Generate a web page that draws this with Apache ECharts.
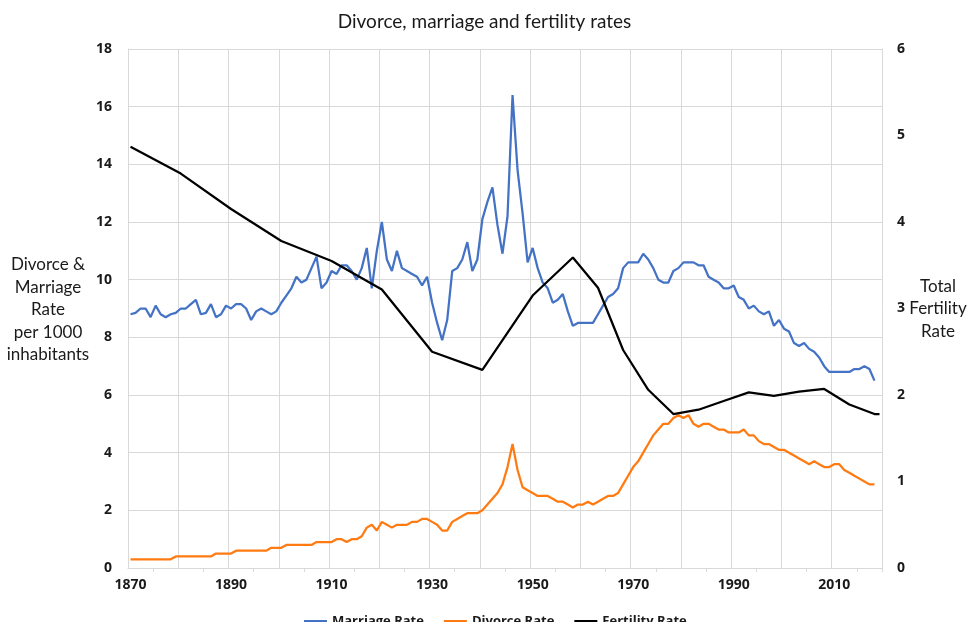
<!DOCTYPE html>
<html>
<head>
<meta charset="utf-8">
<title>Divorce, marriage and fertility rates</title>
<script src="https://cdn.jsdelivr.net/npm/echarts@6/dist/echarts.min.js"></script>
<style>
  html, body { margin: 0; padding: 0; background: #fff; }
  #chart { width: 969px; height: 622px; }
</style>
</head>
<body>
<div id="chart"></div>
<script>
var firstYear = 1870;
var lastYear = 2019;

// per 1000 inhabitants, one value per year from 1870
var marriageRate = [
  8.8, 8.85, 9.0, 9.0, 8.7, 9.1, 8.8, 8.7, 8.8, 8.85,
  9.0, 9.0, 9.15, 9.3, 8.8, 8.85, 9.15, 8.7, 8.8, 9.1,
  9.0, 9.15, 9.15, 9.0, 8.6, 8.9, 9.0, 8.9, 8.8, 8.9,
  9.2, 9.45, 9.7, 10.1, 9.9, 10.0, 10.4, 10.8, 9.7, 9.9,
  10.3, 10.2, 10.5, 10.5, 10.3, 10.0, 10.4, 11.1, 9.7, 11.0,
  12.0, 10.7, 10.3, 11.0, 10.4, 10.3, 10.2, 10.1, 9.8, 10.1,
  9.2, 8.5, 7.9, 8.6, 10.3, 10.4, 10.7, 11.3, 10.3, 10.7,
  12.1, 12.7, 13.2, 11.9, 10.9, 12.2, 16.4, 13.8, 12.3, 10.6,
  11.1, 10.4, 9.9, 9.7, 9.2, 9.3, 9.5, 8.9, 8.4, 8.5,
  8.5, 8.5, 8.5, 8.8, 9.1, 9.4, 9.5, 9.7, 10.4, 10.6,
  10.6, 10.6, 10.9, 10.7, 10.4, 10.0, 9.9, 9.9, 10.3, 10.4,
  10.6, 10.6, 10.6, 10.5, 10.5, 10.1, 10.0, 9.9, 9.7, 9.7,
  9.8, 9.4, 9.3, 9.0, 9.1, 8.9, 8.8, 8.9, 8.4, 8.6,
  8.3, 8.2, 7.8, 7.7, 7.8, 7.6, 7.5, 7.3, 7.0, 6.8,
  6.8, 6.8, 6.8, 6.8, 6.9, 6.9, 7.0, 6.9, 6.5
];

var divorceRate = [
  0.3, 0.3, 0.3, 0.3, 0.3, 0.3, 0.3, 0.3, 0.3, 0.4,
  0.4, 0.4, 0.4, 0.4, 0.4, 0.4, 0.4, 0.5, 0.5, 0.5,
  0.5, 0.6, 0.6, 0.6, 0.6, 0.6, 0.6, 0.6, 0.7, 0.7,
  0.7, 0.8, 0.8, 0.8, 0.8, 0.8, 0.8, 0.9, 0.9, 0.9,
  0.9, 1.0, 1.0, 0.9, 1.0, 1.0, 1.1, 1.4, 1.5, 1.3,
  1.6, 1.5, 1.4, 1.5, 1.5, 1.5, 1.6, 1.6, 1.7, 1.7,
  1.6, 1.5, 1.3, 1.3, 1.6, 1.7, 1.8, 1.9, 1.9, 1.9,
  2.0, 2.2, 2.4, 2.6, 2.9, 3.5, 4.3, 3.4, 2.8, 2.7,
  2.6, 2.5, 2.5, 2.5, 2.4, 2.3, 2.3, 2.2, 2.1, 2.2,
  2.2, 2.3, 2.2, 2.3, 2.4, 2.5, 2.5, 2.6, 2.9, 3.2,
  3.5, 3.7, 4.0, 4.3, 4.6, 4.8, 5.0, 5.0, 5.2, 5.3,
  5.2, 5.3, 5.0, 4.9, 5.0, 5.0, 4.9, 4.8, 4.8, 4.7,
  4.7, 4.7, 4.8, 4.6, 4.6, 4.4, 4.3, 4.3, 4.2, 4.1,
  4.1, 4.0, 3.9, 3.8, 3.7, 3.6, 3.7, 3.6, 3.5, 3.5,
  3.6, 3.6, 3.4, 3.3, 3.2, 3.1, 3.0, 2.9, 2.9
];

// total fertility rate, only known for some years
var fertilityYears = [1870, 1880, 1890, 1900, 1910, 1920, 1930, 1940, 1950, 1958,
  1963, 1968, 1973, 1978, 1983, 1988, 1993, 1998, 2003, 2008, 2013, 2018, 2019];
var fertilityRate = [4.87, 4.56, 4.15, 3.78, 3.55, 3.22, 2.50, 2.29, 3.15, 3.59,
  3.24, 2.52, 2.06, 1.78, 1.83, 1.93, 2.03, 1.99, 2.04, 2.07, 1.89, 1.78, 1.78];

var years = [];
for (var y = firstYear; y <= lastYear; y++) {
  years.push(String(y));
}

var fertilityData = fertilityYears.map(function (yr, i) {
  return [String(yr), fertilityRate[i]];
});

var font = 'Lato, "Open Sans", sans-serif';
var boldFont = '"Open Sans", Lato, sans-serif';
var gridColor = '#d9d9d9';
var labelStyle = { fontSize: 14, fontWeight: 'bold', color: '#1a1a1a', fontFamily: boldFont };

var chart = echarts.init(document.getElementById('chart'), null, { renderer: 'canvas' });
chart.setOption({
  animation: false,
  textStyle: { fontFamily: font },
  title: {
    text: 'Divorce, marriage and fertility rates',
    left: 'center',
    top: 7,
    textStyle: { fontSize: 19, fontWeight: 'normal', color: '#1a1a1a', fontFamily: font }
  },
  legend: {
    top: 610,
    left: 299,
    itemGap: 20,
    itemWidth: 23,
    itemHeight: 3,
    icon: 'rect',
    textStyle: { fontSize: 13, fontWeight: 'bold', color: '#1a1a1a', fontFamily: boldFont },
    data: ['Marriage Rate', 'Divorce Rate', 'Fertility Rate']
  },
  grid: { left: 128, right: 87, top: 49, bottom: 54 },
  graphic: [
    {
      type: 'text',
      style: {
        text: 'Divorce &\nMarriage\nRate\nper 1000\ninhabitants',
        x: 48, y: 310,
        align: 'center',
        verticalAlign: 'middle',
        lineHeight: 22.5,
        font: '17px ' + font,
        fill: '#1a1a1a'
      }
    },
    {
      type: 'text',
      style: {
        text: 'Total\nFertility\nRate',
        x: 938, y: 309,
        align: 'center',
        verticalAlign: 'middle',
        lineHeight: 22.5,
        font: '17px ' + font,
        fill: '#1a1a1a'
      }
    }
  ],
  xAxis: {
    type: 'category',
    data: years,
    boundaryGap: true,
    axisLine: { show: true, lineStyle: { color: gridColor, width: 1 } },
    axisTick: {
      show: true,
      length: 4,
      lineStyle: { color: gridColor },
      interval: function (index) { return index % 10 === 5; }
    },
    axisLabel: Object.assign({ interval: 19, margin: 10 }, labelStyle),
    splitLine: {
      show: true,
      interval: function (index) { return index % 10 === 0; },
      lineStyle: { color: gridColor, width: 1 }
    }
  },
  yAxis: [
    {
      type: 'value',
      min: 0,
      max: 18,
      interval: 2,
      axisLine: { show: true, lineStyle: { color: gridColor } },
      axisTick: { show: false },
      axisLabel: Object.assign({ margin: 16 }, labelStyle),
      splitLine: { show: true, lineStyle: { color: gridColor, width: 1 } }
    },
    {
      type: 'value',
      min: 0,
      max: 6,
      interval: 1,
      position: 'right',
      axisLine: { show: true, lineStyle: { color: gridColor } },
      axisTick: { show: false },
      axisLabel: Object.assign({ margin: 15 }, labelStyle),
      splitLine: { show: false }
    }
  ],
  series: [
    {
      name: 'Marriage Rate',
      type: 'line',
      data: marriageRate,
      showSymbol: false,
      lineStyle: { color: '#4472C4', width: 2.25 },
      itemStyle: { color: '#4472C4' },
      z: 3
    },
    {
      name: 'Divorce Rate',
      type: 'line',
      data: divorceRate,
      showSymbol: false,
      lineStyle: { color: '#FF7B12', width: 2.25 },
      itemStyle: { color: '#FF7B12' },
      z: 3
    },
    {
      name: 'Fertility Rate',
      type: 'line',
      yAxisIndex: 1,
      data: fertilityData,
      connectNulls: true,
      showSymbol: false,
      lineStyle: { color: '#000', width: 2.25 },
      itemStyle: { color: '#000' },
      z: 4
    }
  ]
});

window.addEventListener('resize', function () {
  chart.resize();
});
</script>
</body>
</html>
